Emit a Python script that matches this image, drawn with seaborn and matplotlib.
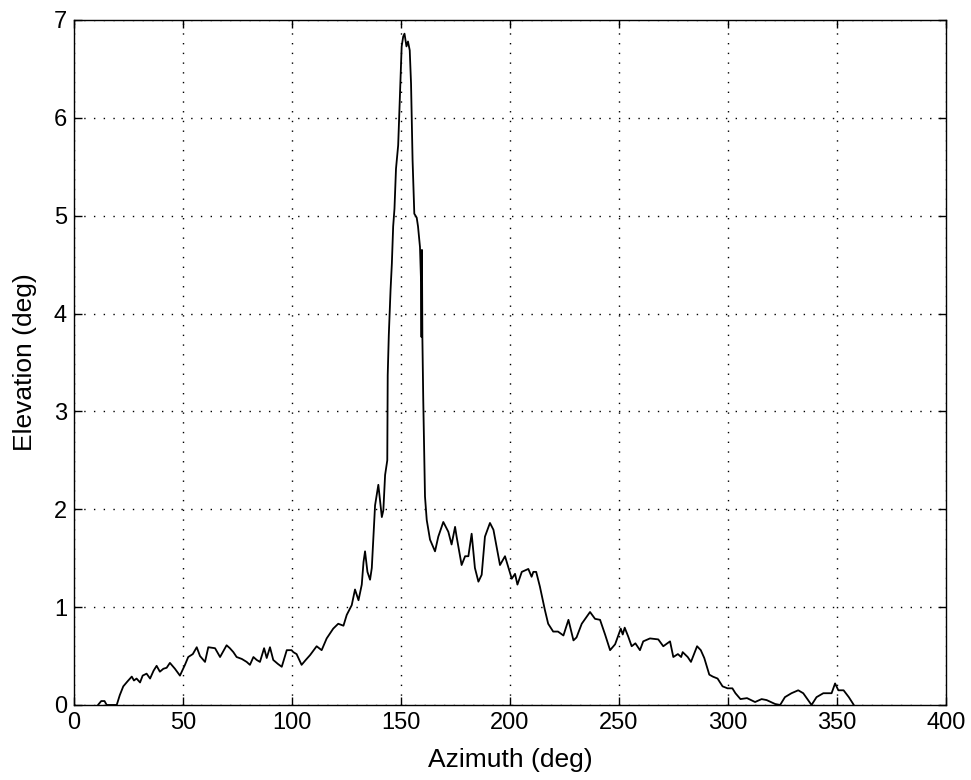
import pandas as pd
import matplotlib
matplotlib.use("Agg")
import matplotlib.pyplot as plt
import seaborn as sns
from matplotlib import font_manager

sns.set_style("ticks")

# pick a narrow sans if available (MATLAB screenshot look)
names = {f.name for f in font_manager.fontManager.ttflist}
family = "Liberation Sans Narrow" if "Liberation Sans Narrow" in names else "Liberation Sans"
plt.rcParams["font.family"] = [family, "DejaVu Sans"]

# =========================
# DATA
# =========================
azimuth = [
    11, 12.5, 14, 15, 16, 19.6, 21, 22.6, 24.5, 26.5, 27.5, 28.7, 30.3, 31.5, 33.3,
    34.9, 36.5, 37.9, 39.4, 41.0, 42.5, 44.0, 46.3, 48.6, 50.9, 52.4, 54.5, 56.3,
    57.8, 60.1, 61.6, 64.7, 67.0, 68.5, 70.0, 71.5, 73.1, 74.6, 77.0, 79.2, 80.7,
    82.3, 83.8, 85.3, 87.2, 88.4, 89.9, 91.4, 93.5, 95.3, 97.6, 99.8, 100.6, 102.1,
    104.4, 106.3, 108.3, 111.3, 113.6, 115.9, 118.9, 121.2, 123.6, 125.1, 127.4,
    128.9, 130.5, 132.0, 132.8, 133.5, 134.6, 135.8, 136.6, 137.4, 138.1, 139.6,
    140.4, 141.2, 141.9, 142.7, 143.7, 143.9, 144.4, 145.2, 145.8, 146.4, 147.0,
    147.7, 148.7, 149.5, 150.3, 151.0, 151.6, 152.5, 153.2, 154.0, 154.6, 155.3,
    156.1, 157.2, 157.8, 158.7, 159.2, 159.4, 159.6, 159.8, 160.2, 161.0, 161.8,
    163.3, 165.6, 167.1, 169.4, 171.7, 173.2, 174.8, 175.5, 177.8, 179.4, 180.9,
    182.4, 183.9, 185.5, 187.0, 188.5, 190.8, 192.4, 195.4, 197.7, 200.8, 202.3,
    203.4, 205.4, 208.4, 209.9, 210.7, 212.0, 213.7, 216.0, 217.5, 219.8, 222.0,
    224.5, 226.8, 229.1, 230.5, 232.9, 236.7, 239.0, 241.3, 243.6, 245.9, 248.2,
    250.8, 251.7, 252.6, 254.2, 255.8, 257.5, 259.6, 261.1, 264.2, 268.0, 270.3,
    273.4, 274.9, 277.0, 278.5, 279.2, 281.5, 283.0, 285.8, 287.5, 289.1, 291.4,
    293.0, 295.2, 297.5, 299.8, 302.0, 303.4, 305.7, 308.7, 312.4, 315.4, 317.7,
    321.6, 323.9, 326.1, 329.1, 332.2, 334.5, 338.3, 340.6, 343.7, 347.5, 349.1,
    350.6, 353.0, 355.4, 357.7,
]
elevation = [
    0.0, 0.04, 0.04, 0.0, 0.0, 0.0, 0.10, 0.19, 0.24, 0.29, 0.25, 0.27, 0.23, 0.30, 0.32,
    0.27, 0.35, 0.40, 0.34, 0.37, 0.38, 0.43, 0.37, 0.30, 0.41, 0.49, 0.52, 0.59,
    0.50, 0.44, 0.59, 0.58, 0.49, 0.55, 0.61, 0.58, 0.54, 0.49, 0.47, 0.44, 0.41,
    0.49, 0.46, 0.44, 0.58, 0.48, 0.59, 0.46, 0.42, 0.39, 0.56, 0.56, 0.54, 0.52,
    0.41, 0.46, 0.51, 0.60, 0.56, 0.68, 0.78, 0.83, 0.81, 0.92, 1.02,
    1.18, 1.07, 1.23, 1.46, 1.57, 1.36, 1.28, 1.40, 1.74, 2.04, 2.25,
    2.09, 1.92, 1.99, 2.35, 2.50, 3.37, 3.78, 4.24, 4.51, 4.89, 5.07,
    5.48, 5.72, 6.22, 6.73, 6.83, 6.86, 6.73, 6.78, 6.69, 6.35, 5.57,
    5.02, 4.98, 4.89, 4.68, 4.32, 3.76, 4.65, 3.76, 3.12, 2.13, 1.89,
    1.69, 1.57, 1.72, 1.87, 1.77, 1.64, 1.82, 1.72, 1.43, 1.52, 1.52,
    1.75, 1.40, 1.26, 1.33, 1.72, 1.86, 1.79, 1.43, 1.52, 1.29, 1.34,
    1.23, 1.36, 1.39, 1.31, 1.36, 1.36, 1.21, 0.97, 0.83, 0.75, 0.75,
    0.71, 0.87, 0.66, 0.69, 0.83, 0.95, 0.88, 0.87, 0.72, 0.56, 0.62,
    0.78, 0.72, 0.79, 0.70, 0.60, 0.63, 0.56, 0.65, 0.68, 0.67, 0.60,
    0.65, 0.49, 0.52, 0.49, 0.54, 0.49, 0.44, 0.60, 0.56, 0.48, 0.31,
    0.29, 0.27, 0.19, 0.17, 0.17, 0.12, 0.06, 0.07, 0.03, 0.06, 0.05,
    0.01, 0.0, 0.08, 0.12, 0.15, 0.12, 0.0, 0.08, 0.12, 0.12, 0.22,
    0.15, 0.15, 0.08, 0.0,
]
x_ticks = [0, 50, 100, 150, 200, 250, 300, 350, 400]
y_ticks = [0, 1, 2, 3, 4, 5, 6, 7]

df = pd.DataFrame({"Azimuth": azimuth, "Elevation": elevation})

# =========================
# PLOT
# =========================
fig = plt.figure(figsize=(9.71, 7.80), dpi=100)
ax = fig.add_axes([0.0762, 0.0962, 0.8981, 0.8782])

sns.lineplot(data=df, x="Azimuth", y="Elevation", color="black", linewidth=1.3,
             estimator=None, sort=False, ax=ax)

ax.set_xlim(0, 400)
ax.set_ylim(0, 7)
ax.set_xticks(x_ticks)
ax.set_yticks(y_ticks)
ax.grid(True, color="black", linestyle=(0, (1, 6)), linewidth=1.0)
ax.tick_params(direction="in", length=6, width=1, top=True, right=True,
               labelsize=17, colors="black", pad=5)
for s in ax.spines.values():
    s.set_visible(True)
    s.set_color("black")
    s.set_linewidth(1.0)

ax.set_xlabel("Azimuth (deg)", fontsize=19, labelpad=10, color="black")
ax.set_ylabel("Elevation (deg)", fontsize=19, labelpad=12, color="black")

fig.savefig("out.png", dpi=100, facecolor="white")
